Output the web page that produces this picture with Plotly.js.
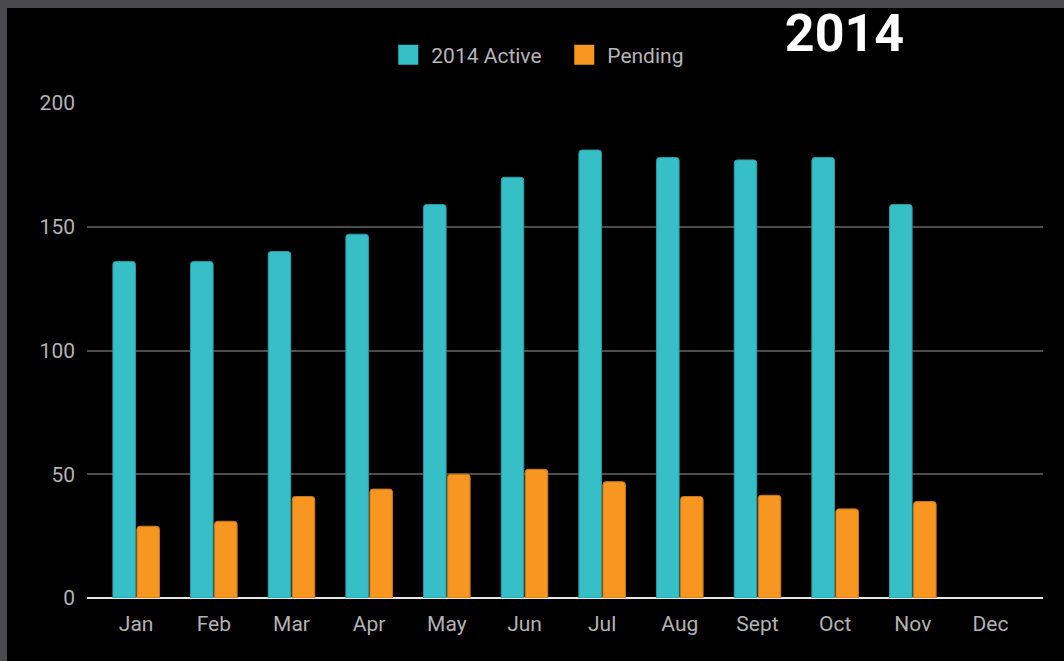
<!DOCTYPE html>
<html>
<head>
<meta charset="utf-8">
<script src="https://cdn.plot.ly/plotly-3.0.1.min.js"></script>
<style>
  html, body { margin: 0; padding: 0; background: #000000; width: 1064px; height: 661px; overflow: hidden; }
  #chart { position: absolute; left: 0; top: 0; width: 1064px; height: 661px; }
  .frame { position: absolute; background: #4a4a4c; pointer-events: none; z-index: 10; }
  #frameTop { left: 0; top: 0; width: 1064px; height: 8px; }
  #frameLeft { left: 0; top: 0; width: 7px; height: 661px; }
</style>
</head>
<body>
<div id="chart"></div>
<div class="frame" id="frameTop"></div>
<div class="frame" id="frameLeft"></div>
<script>
const months = ["Jan", "Feb", "Mar", "Apr", "May", "Jun", "Jul", "Aug", "Sept", "Oct", "Nov", "Dec"];
const active2014 = [136, 136, 140, 147, 159, 170, 181, 178, 177, 178, 159, null];
const pending = [29, 31, 41, 44, 50, 52, 47, 41, 41.5, 36, 39, null];
const seriesNames = ["2014 Active", "Pending"];
const seriesColors = ["#37bfc7", "#f79621"];
const edgeColors = ["#2c9aa1", "#c9761a"];
const yTicks = [0, 50, 100, 150, 200];

const tickFont = { family: "Roboto, sans-serif", size: 21, color: "#b3b3b3" };

const values = [active2014, pending];
const data = [];
values.forEach((vals, i) => {
  data.push({
    type: "bar", name: seriesNames[i], x: months, y: vals,
    legendgroup: "g" + i, showlegend: false,
    marker: { color: seriesColors[i], line: { color: edgeColors[i], width: 1 } },
    hoverinfo: "x+y+name"
  });
});
// legend entries (square keys)
values.forEach((vals, i) => {
  data.push({
    type: "scatter", mode: "markers", name: seriesNames[i], x: [null], y: [null],
    legendgroup: "g" + i, showlegend: true, hoverinfo: "skip",
    marker: { symbol: "square", size: 16, color: seriesColors[i], line: { color: seriesColors[i], width: 4 } }
  });
});

const layout = {
  width: 1064, height: 661,
  paper_bgcolor: "#000000", plot_bgcolor: "#000000",
  margin: { l: 87, r: 21, t: 103, b: 63, pad: 0 },
  barmode: "group", bargap: 0.382, bargroupgap: 0.06, barcornerradius: 3,
  title: {
    text: "2014",
    font: { family: "Roboto, sans-serif", size: 52, color: "#ffffff", weight: 700 },
    xref: "container", x: 844.5 / 1064, xanchor: "center",
    yref: "container", y: 1 - 15 / 661, yanchor: "top"
  },
  showlegend: true,
  legend: {
    orientation: "h", x: 0.312, xanchor: "left", y: 1.097, yanchor: "middle",
    font: { family: "Roboto, sans-serif", size: 21, color: "#b5b5b5" },
    bgcolor: "rgba(0,0,0,0)", entrywidth: 125, entrywidthmode: "pixels", itemwidth: 36,
    itemclick: false, itemdoubleclick: false
  },
  xaxis: {
    type: "category", range: [-0.633, 11.676],
    showgrid: false, zeroline: false, showline: false, ticks: "",
    tickfont: tickFont, ticklabelstandoff: 11, fixedrange: true
  },
  yaxis: {
    range: [0, 200], tickvals: yTicks, ticktext: yTicks.map(String),
    showgrid: true, gridcolor: "#4d4d4d", gridwidth: 1.5,
    zeroline: true, zerolinecolor: "#e6e6e6", zerolinewidth: 2,
    showline: false, ticks: "", tickfont: tickFont, ticklabelstandoff: 11, fixedrange: true
  }
};

Plotly.newPlot("chart", data, layout, { displayModeBar: false });
</script>
</body>
</html>
